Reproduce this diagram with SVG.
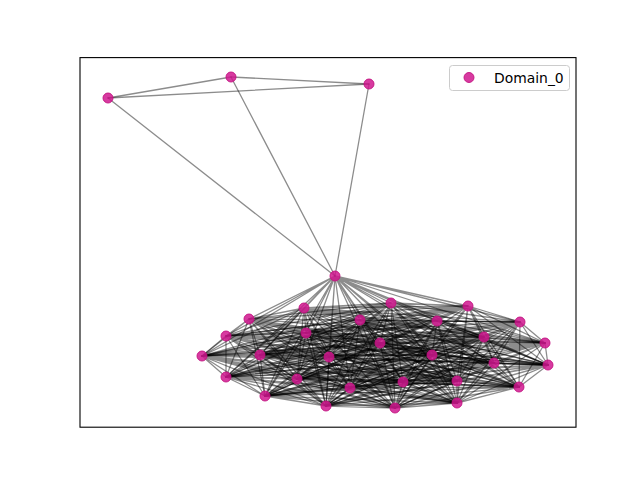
<svg xmlns="http://www.w3.org/2000/svg" width="640" height="480" viewBox="0 0 640 480">
<style>
.e{fill:none;stroke:#000;stroke-opacity:0.45;stroke-width:1.3;stroke-linecap:round}
.n circle{fill:#d0178f;fill-opacity:0.85;stroke:#c2127f;stroke-opacity:0.9;stroke-width:1}
text{font-family:"DejaVu Sans",sans-serif;font-size:13.9px;fill:#000}
</style>
<rect width="640" height="480" fill="#fff"/>
<g id="connectors">
<path class="e" d="M108 98L231 77"/>
<path class="e" d="M108 98L369 84"/>
<path class="e" d="M231 77L369 84"/>
<path class="e" d="M108 98L335 276"/>
<path class="e" d="M231 77L335 276"/>
<path class="e" d="M369 84L335 276"/>
<path class="e" d="M335 276L304 308M335 276L391 303M335 276L468 306M335 276L249 319M335 276L360 320M335 276L437 321M335 276L520 322M335 276L226 336M335 276L306 333M335 276L484 337M335 276L545 343M335 276L380 343M335 276L202 356M335 276L260 355M335 276L329 357M335 276L432 355M335 276L494 363M335 276L548 365M335 276L226 377M335 276L297 379M335 276L350 388M335 276L403 382M335 276L457 381M335 276L519 387M335 276L265 396M335 276L326 406M335 276L395 408M335 276L457 403"/>
<path class="e" d="M304 308L391 303M304 308L468 306M304 308L249 319M304 308L360 320M304 308L437 321M304 308L520 322M304 308L226 336M304 308L306 333M304 308L484 337M304 308L545 343M304 308L380 343M304 308L202 356M304 308L260 355M304 308L329 357M304 308L432 355M304 308L494 363M304 308L548 365M304 308L226 377M304 308L297 379M304 308L350 388M304 308L403 382M304 308L457 381M304 308L519 387M304 308L265 396M304 308L326 406M304 308L395 408M304 308L457 403"/>
<path class="e" d="M391 303L468 306M391 303L249 319M391 303L360 320M391 303L437 321M391 303L520 322M391 303L226 336M391 303L306 333M391 303L484 337M391 303L545 343M391 303L380 343M391 303L202 356M391 303L260 355M391 303L329 357M391 303L432 355M391 303L494 363M391 303L548 365M391 303L226 377M391 303L297 379M391 303L350 388M391 303L403 382M391 303L457 381M391 303L519 387M391 303L265 396M391 303L326 406M391 303L395 408M391 303L457 403"/>
<path class="e" d="M468 306L249 319M468 306L360 320M468 306L437 321M468 306L520 322M468 306L226 336M468 306L306 333M468 306L484 337M468 306L545 343M468 306L380 343M468 306L202 356M468 306L260 355M468 306L329 357M468 306L432 355M468 306L494 363M468 306L548 365M468 306L226 377M468 306L297 379M468 306L350 388M468 306L403 382M468 306L457 381M468 306L519 387M468 306L265 396M468 306L326 406M468 306L395 408M468 306L457 403"/>
<path class="e" d="M249 319L360 320M249 319L437 321M249 319L520 322M249 319L226 336M249 319L306 333M249 319L484 337M249 319L545 343M249 319L380 343M249 319L202 356M249 319L260 355M249 319L329 357M249 319L432 355M249 319L494 363M249 319L548 365M249 319L226 377M249 319L297 379M249 319L350 388M249 319L403 382M249 319L457 381M249 319L519 387M249 319L265 396M249 319L326 406M249 319L395 408M249 319L457 403"/>
<path class="e" d="M360 320L437 321M360 320L520 322M360 320L226 336M360 320L306 333M360 320L484 337M360 320L545 343M360 320L380 343M360 320L202 356M360 320L260 355M360 320L329 357M360 320L432 355M360 320L494 363M360 320L548 365M360 320L226 377M360 320L297 379M360 320L350 388M360 320L403 382M360 320L457 381M360 320L519 387M360 320L265 396M360 320L326 406M360 320L395 408M360 320L457 403"/>
<path class="e" d="M437 321L520 322M437 321L226 336M437 321L306 333M437 321L484 337M437 321L545 343M437 321L380 343M437 321L202 356M437 321L260 355M437 321L329 357M437 321L432 355M437 321L494 363M437 321L548 365M437 321L226 377M437 321L297 379M437 321L350 388M437 321L403 382M437 321L457 381M437 321L519 387M437 321L265 396M437 321L326 406M437 321L395 408M437 321L457 403"/>
<path class="e" d="M520 322L226 336M520 322L306 333M520 322L484 337M520 322L545 343M520 322L380 343M520 322L202 356M520 322L260 355M520 322L329 357M520 322L432 355M520 322L494 363M520 322L548 365M520 322L226 377M520 322L297 379M520 322L350 388M520 322L403 382M520 322L457 381M520 322L519 387M520 322L265 396M520 322L326 406M520 322L395 408M520 322L457 403"/>
<path class="e" d="M226 336L306 333M226 336L484 337M226 336L545 343M226 336L380 343M226 336L202 356M226 336L260 355M226 336L329 357M226 336L432 355M226 336L494 363M226 336L548 365M226 336L226 377M226 336L297 379M226 336L350 388M226 336L403 382M226 336L457 381M226 336L519 387M226 336L265 396M226 336L326 406M226 336L395 408M226 336L457 403"/>
<path class="e" d="M306 333L484 337M306 333L545 343M306 333L380 343M306 333L202 356M306 333L260 355M306 333L329 357M306 333L432 355M306 333L494 363M306 333L548 365M306 333L226 377M306 333L297 379M306 333L350 388M306 333L403 382M306 333L457 381M306 333L519 387M306 333L265 396M306 333L326 406M306 333L395 408M306 333L457 403"/>
<path class="e" d="M484 337L545 343M484 337L380 343M484 337L202 356M484 337L260 355M484 337L329 357M484 337L432 355M484 337L494 363M484 337L548 365M484 337L226 377M484 337L297 379M484 337L350 388M484 337L403 382M484 337L457 381M484 337L519 387M484 337L265 396M484 337L326 406M484 337L395 408M484 337L457 403"/>
<path class="e" d="M545 343L380 343M545 343L202 356M545 343L260 355M545 343L329 357M545 343L432 355M545 343L494 363M545 343L548 365M545 343L226 377M545 343L297 379M545 343L350 388M545 343L403 382M545 343L457 381M545 343L519 387M545 343L265 396M545 343L326 406M545 343L395 408M545 343L457 403"/>
<path class="e" d="M380 343L202 356M380 343L260 355M380 343L329 357M380 343L432 355M380 343L494 363M380 343L548 365M380 343L226 377M380 343L297 379M380 343L350 388M380 343L403 382M380 343L457 381M380 343L519 387M380 343L265 396M380 343L326 406M380 343L395 408M380 343L457 403"/>
<path class="e" d="M202 356L260 355M202 356L329 357M202 356L432 355M202 356L494 363M202 356L548 365M202 356L226 377M202 356L297 379M202 356L350 388M202 356L403 382M202 356L457 381M202 356L519 387M202 356L265 396M202 356L326 406M202 356L395 408M202 356L457 403"/>
<path class="e" d="M260 355L329 357M260 355L432 355M260 355L494 363M260 355L548 365M260 355L226 377M260 355L297 379M260 355L350 388M260 355L403 382M260 355L457 381M260 355L519 387M260 355L265 396M260 355L326 406M260 355L395 408M260 355L457 403"/>
<path class="e" d="M329 357L432 355M329 357L494 363M329 357L548 365M329 357L226 377M329 357L297 379M329 357L350 388M329 357L403 382M329 357L457 381M329 357L519 387M329 357L265 396M329 357L326 406M329 357L395 408M329 357L457 403"/>
<path class="e" d="M432 355L494 363M432 355L548 365M432 355L226 377M432 355L297 379M432 355L350 388M432 355L403 382M432 355L457 381M432 355L519 387M432 355L265 396M432 355L326 406M432 355L395 408M432 355L457 403"/>
<path class="e" d="M494 363L548 365M494 363L226 377M494 363L297 379M494 363L350 388M494 363L403 382M494 363L457 381M494 363L519 387M494 363L265 396M494 363L326 406M494 363L395 408M494 363L457 403"/>
<path class="e" d="M548 365L226 377M548 365L297 379M548 365L350 388M548 365L403 382M548 365L457 381M548 365L519 387M548 365L265 396M548 365L326 406M548 365L395 408M548 365L457 403"/>
<path class="e" d="M226 377L297 379M226 377L350 388M226 377L403 382M226 377L457 381M226 377L519 387M226 377L265 396M226 377L326 406M226 377L395 408M226 377L457 403"/>
<path class="e" d="M297 379L350 388M297 379L403 382M297 379L457 381M297 379L519 387M297 379L265 396M297 379L326 406M297 379L395 408M297 379L457 403"/>
<path class="e" d="M350 388L403 382M350 388L457 381M350 388L519 387M350 388L265 396M350 388L326 406M350 388L395 408M350 388L457 403"/>
<path class="e" d="M403 382L457 381M403 382L519 387M403 382L265 396M403 382L326 406M403 382L395 408M403 382L457 403"/>
<path class="e" d="M457 381L519 387M457 381L265 396M457 381L326 406M457 381L395 408M457 381L457 403"/>
<path class="e" d="M519 387L265 396M519 387L326 406M519 387L395 408M519 387L457 403"/>
<path class="e" d="M265 396L326 406M265 396L395 408M265 396L457 403"/>
<path class="e" d="M326 406L395 408M326 406L457 403"/>
<path class="e" d="M395 408L457 403"/>
</g>
<g class="n">
<g id="n0"><circle cx="108" cy="98" r="5"/></g>
<g id="n1"><circle cx="231" cy="77" r="5"/></g>
<g id="n2"><circle cx="369" cy="84" r="5"/></g>
<g id="n3"><circle cx="335" cy="276" r="5"/></g>
<g id="n4"><circle cx="304" cy="308" r="5"/></g>
<g id="n5"><circle cx="391" cy="303" r="5"/></g>
<g id="n6"><circle cx="468" cy="306" r="5"/></g>
<g id="n7"><circle cx="249" cy="319" r="5"/></g>
<g id="n8"><circle cx="360" cy="320" r="5"/></g>
<g id="n9"><circle cx="437" cy="321" r="5"/></g>
<g id="n10"><circle cx="520" cy="322" r="5"/></g>
<g id="n11"><circle cx="226" cy="336" r="5"/></g>
<g id="n12"><circle cx="306" cy="333" r="5"/></g>
<g id="n13"><circle cx="484" cy="337" r="5"/></g>
<g id="n14"><circle cx="545" cy="343" r="5"/></g>
<g id="n15"><circle cx="380" cy="343" r="5"/></g>
<g id="n16"><circle cx="202" cy="356" r="5"/></g>
<g id="n17"><circle cx="260" cy="355" r="5"/></g>
<g id="n18"><circle cx="329" cy="357" r="5"/></g>
<g id="n19"><circle cx="432" cy="355" r="5"/></g>
<g id="n20"><circle cx="494" cy="363" r="5"/></g>
<g id="n21"><circle cx="548" cy="365" r="5"/></g>
<g id="n22"><circle cx="226" cy="377" r="5"/></g>
<g id="n23"><circle cx="297" cy="379" r="5"/></g>
<g id="n24"><circle cx="350" cy="388" r="5"/></g>
<g id="n25"><circle cx="403" cy="382" r="5"/></g>
<g id="n26"><circle cx="457" cy="381" r="5"/></g>
<g id="n27"><circle cx="519" cy="387" r="5"/></g>
<g id="n28"><circle cx="265" cy="396" r="5"/></g>
<g id="n29"><circle cx="326" cy="406" r="5"/></g>
<g id="n30"><circle cx="395" cy="408" r="5"/></g>
<g id="n31"><circle cx="457" cy="403" r="5"/></g>
</g>
<rect x="80" y="57.6" width="496" height="369.6" fill="none" stroke="#000" stroke-width="1.1"/>
<g id="legend">
<rect x="449.5" y="65.5" width="120" height="25" rx="3" fill="#fff" fill-opacity="0.8" stroke="#ccc" stroke-width="1"/>
<g class="n"><circle cx="469" cy="77.5" r="5"/></g>
<text x="494" y="82.5">Domain_0</text>
</g>
</svg>
